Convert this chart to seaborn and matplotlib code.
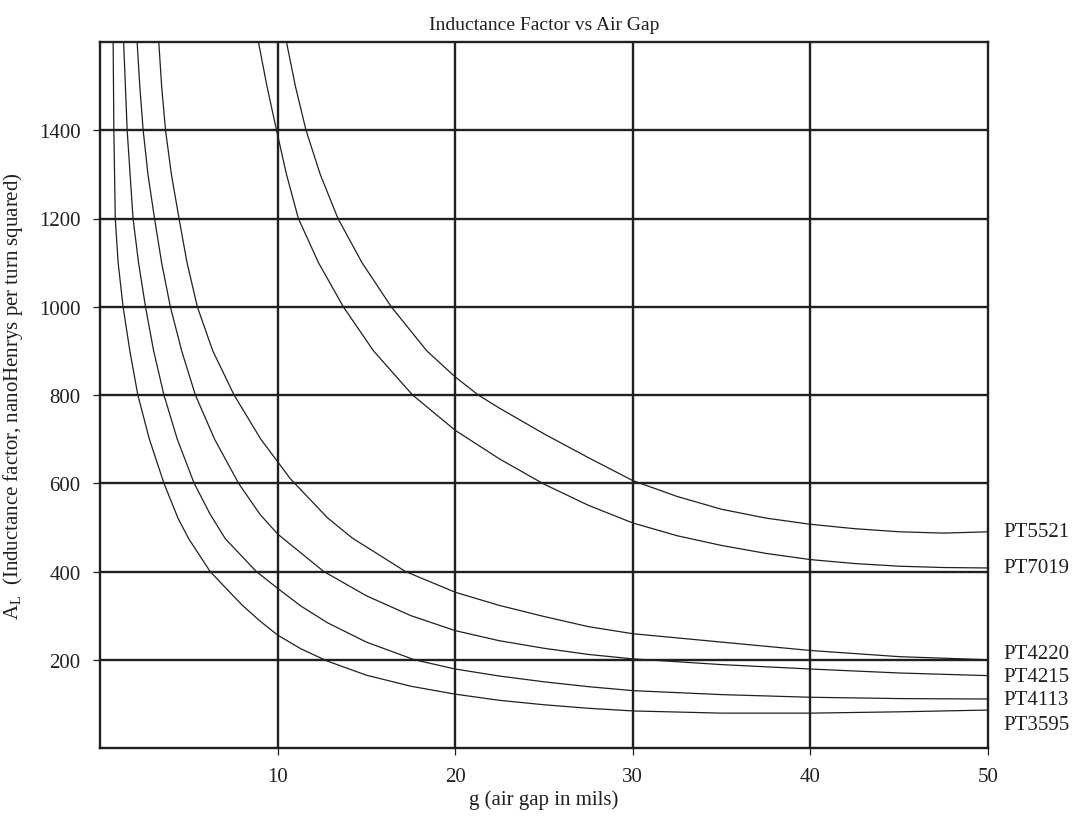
import matplotlib
matplotlib.use("Agg")
import matplotlib.pyplot as plt
import pandas as pd
import seaborn as sns

# curve readings: air gap (mils) vs A_L (nH/turn^2)
PARTS = ["PT5521", "PT7019", "PT4220", "PT4215", "PT4113", "PT3595"]

pt5521_x = [10.5, 11.0, 11.6, 12.4, 13.4, 14.75, 16.4, 18.4, 20, 21.3, 22.5, 25, 27.5, 30,
            32.5, 35, 37.5, 40, 42.5, 45, 47.5, 50]
pt5521_y = [1600, 1500, 1400, 1300, 1200, 1100, 1000, 900, 841, 800, 770, 712, 658, 606,
            570, 541, 521, 507, 497, 490, 487, 490]

pt7019_x = [8.92, 9.4, 9.94, 10.5, 11.17, 12.3, 13.7, 15.4, 17.6, 20, 22.5, 25, 27.5, 30,
            32.5, 35, 37.5, 40, 42.5, 45, 47.5, 50]
pt7019_y = [1600, 1500, 1400, 1300, 1200, 1100, 1000, 900, 800, 720, 655, 598, 550, 510,
            481, 459, 441, 427, 418, 412, 409, 408]

pt4220_x = [3.31, 3.47, 3.69, 4.02, 4.45, 4.9, 5.48, 6.35, 7.55, 9.05, 10, 10.7, 12.8, 14.2,
            17.2, 20, 22.5, 25, 27.5, 30, 35, 40, 45, 50]
pt4220_y = [1600, 1500, 1400, 1300, 1200, 1100, 1000, 900, 800, 700, 649, 611, 522, 476,
            400, 353, 323, 298, 275, 259, 240, 221, 207, 200]

pt4215_x = [2.09, 2.24, 2.43, 2.7, 3.07, 3.47, 3.96, 4.6, 5.37, 6.45, 7.8, 9.0, 10, 12.6,
            15, 17.5, 20, 22.5, 25, 27.5, 30, 35, 40, 45, 50]
pt4215_y = [1600, 1500, 1400, 1300, 1200, 1100, 1000, 900, 800, 700, 600, 530, 485, 400,
            345, 300, 266, 243, 226, 212, 202, 189, 179, 170, 164]

pt4113_x = [1.33, 1.53, 1.86, 2.17, 2.56, 3.02, 3.6, 4.35, 5.3, 6.2, 7.06, 8.8, 10, 11.3,
            12.8, 15, 17.7, 20, 22.5, 25, 27.5, 30, 35, 40, 45, 50]
pt4113_y = [1600, 1400, 1200, 1100, 1000, 900, 800, 700, 600, 530, 474, 400, 362, 322,
            284, 240, 200, 179, 163, 150, 139, 130, 121, 115, 112, 111]

pt3595_x = [0.74, 0.78, 0.86, 1.02, 1.3, 1.68, 2.13, 2.78, 3.6, 4.4, 5.0, 6.2, 7, 8, 9, 10,
            11.3, 12.8, 15, 17.5, 20, 22.5, 25, 27.5, 30, 35, 40, 45, 50]
pt3595_y = [1600, 1400, 1200, 1100, 1000, 900, 800, 700, 600, 520, 474, 400, 366, 324, 288, 256,
            225, 197, 165, 140, 122, 108, 98, 90, 84, 79, 79, 82, 86]

label_y = [490, 410, 215, 161, 109, 54]
x_ticks = [10, 20, 30, 40, 50]
y_ticks = [200, 400, 600, 800, 1000, 1200, 1400]

curves = {
    "PT5521": (pt5521_x, pt5521_y),
    "PT7019": (pt7019_x, pt7019_y),
    "PT4220": (pt4220_x, pt4220_y),
    "PT4215": (pt4215_x, pt4215_y),
    "PT4113": (pt4113_x, pt4113_y),
    "PT3595": (pt3595_x, pt3595_y),
}
df = pd.concat(
    [pd.DataFrame({"part": p, "gap": xs, "al": ys}) for p, (xs, ys) in curves.items()],
    ignore_index=True,
)

sns.set_style("white")
plt.rcParams["font.family"] = ["Liberation Serif", "DejaVu Serif"]
plt.rcParams["mathtext.fontset"] = "custom"
plt.rcParams["mathtext.rm"] = "Liberation Serif"
plt.rcParams["mathtext.it"] = "Liberation Serif:italic"

INK = "#231f20"

fig = plt.figure(figsize=(10.79, 8.20), dpi=100)
ax = fig.add_axes([100 / 1079, 71 / 820, 888 / 1079, 706 / 820])

sns.lineplot(data=df, x="gap", y="al", hue="part", palette={p: INK for p in PARTS},
             estimator=None, legend=False, linewidth=0.9, ax=ax, zorder=3)

ax.set_xlim(0, 50)
ax.set_ylim(0, 1600)
ax.set_xticks(x_ticks)
ax.set_yticks(y_ticks)

for v in x_ticks[:-1]:
    ax.axvline(v, color=INK, lw=1.7, zorder=2)
for v in y_ticks:
    ax.axhline(v, color=INK, lw=1.7, zorder=2)

for s in ax.spines.values():
    s.set_visible(True)
    s.set_color(INK)
    s.set_linewidth(1.7)

ax.tick_params(axis="both", direction="out", length=5, width=0.9, color=INK,
               labelsize=15, labelcolor=INK, pad=9)
ax.tick_params(axis="both", bottom=True, left=True)

for p, yv in zip(PARTS, label_y):
    ax.text(50.85, yv, p, fontsize=15, color=INK, va="center", ha="left", clip_on=False)

ax.set_title("Inductance Factor vs Air Gap", fontsize=14, color=INK, pad=9)
ax.set_xlabel("g (air gap in mils)", fontsize=15, color=INK, labelpad=2)
ax.set_ylabel(r"A$_{\mathrm{L}}$  (Inductance factor, nanoHenrys per turn squared)",
              fontsize=15, color=INK, labelpad=10)

fig.savefig("out.png", dpi=100, facecolor="white")
